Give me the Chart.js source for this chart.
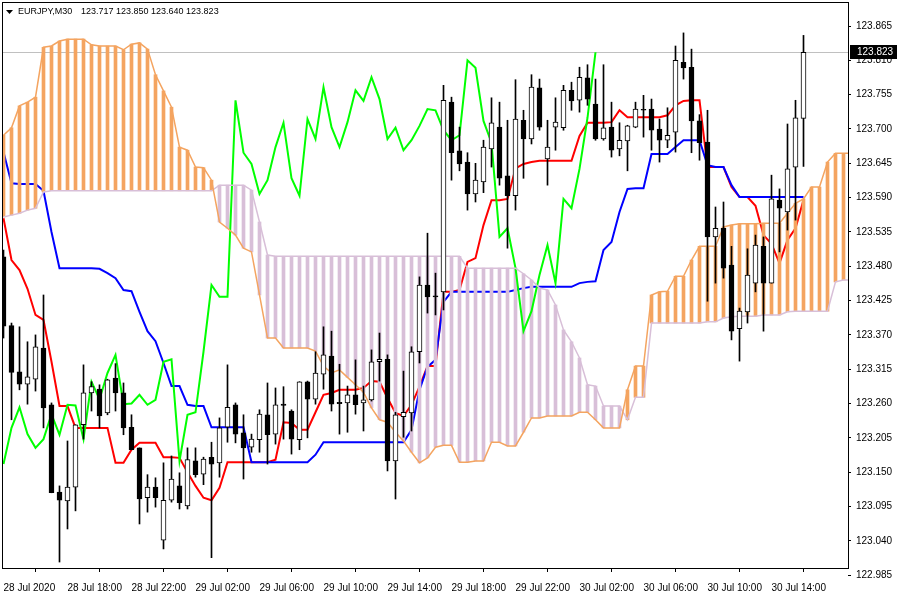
<!DOCTYPE html>
<html><head><meta charset="utf-8">
<script src="https://cdn.jsdelivr.net/npm/chart.js@4.4.1/dist/chart.umd.min.js"></script>
<style>html,body{margin:0;padding:0;background:#fff;}canvas{display:block;}</style>
</head><body>
<canvas id="c" width="900" height="600"></canvas>
<script>
const symbolTitle = 'EURJPY,M30';

const open = [123.495,123.385,123.311,123.291,123.299,123.349,123.258,123.118,123.104,123.126,
 123.226,123.277,123.283,123.245,123.301,123.277,123.222,123.189,123.109,123.126,
 123.041,123.105,123.128,123.096,123.168,123.147,123.174,123.165,123.222,123.258,
 123.213,123.190,123.202,123.242,123.211,123.259,123.248,123.202,123.295,123.267,
 123.307,123.336,123.262,123.261,123.274,123.261,123.266,123.327,123.331,123.168,
 123.239,123.245,123.343,123.450,123.432,123.439,123.743,123.665,123.647,123.596,
 123.615,123.668,123.703,123.625,123.593,123.714,123.684,123.766,123.652,123.703,
 123.702,123.762,123.746,123.782,123.740,123.684,123.703,123.668,123.681,123.703,
 123.731,123.732,123.700,123.682,123.695,123.807,123.799,123.713,123.679,123.527,
 123.541,123.482,123.380,123.407,123.453,123.512,123.453,123.586,123.567,123.639,
 123.717];
const high = [123.506,123.389,123.383,123.359,123.370,123.434,123.261,123.128,123.200,123.226,
 123.322,123.295,123.290,123.299,123.324,123.293,123.242,123.189,123.146,123.141,
 123.165,123.176,123.149,123.189,123.189,123.174,123.198,123.237,123.322,123.261,
 123.242,123.211,123.250,123.293,123.285,123.287,123.250,123.295,123.296,123.343,
 123.383,123.376,123.323,123.288,123.330,123.288,123.346,123.373,123.338,123.246,
 123.312,123.351,123.463,123.533,123.469,123.770,123.751,123.703,123.662,123.645,
 123.682,123.750,123.743,123.714,123.779,123.730,123.787,123.780,123.714,123.750,
 123.770,123.775,123.799,123.803,123.780,123.803,123.743,123.710,123.706,123.743,
 123.754,123.748,123.716,123.734,123.833,123.854,123.828,123.723,123.730,123.575,
 123.583,123.512,123.413,123.508,123.530,123.527,123.626,123.604,123.708,123.746,
 123.850];
const low = [123.365,123.234,123.282,123.259,123.280,123.221,123.117,123.006,123.059,123.088,
 123.203,123.248,123.221,123.242,123.248,123.210,123.186,123.067,123.086,123.094,
 123.027,123.102,123.091,123.091,123.142,123.130,123.013,123.142,123.198,123.197,
 123.139,123.182,123.182,123.163,123.195,123.203,123.179,123.186,123.205,123.259,
 123.283,123.248,123.211,123.214,123.243,123.216,123.264,123.296,123.152,123.107,
 123.206,123.216,123.325,123.405,123.402,123.410,123.618,123.633,123.570,123.583,
 123.598,123.639,123.610,123.509,123.570,123.621,123.676,123.698,123.610,123.666,
 123.698,123.730,123.727,123.738,123.682,123.682,123.655,123.657,123.633,123.702,
 123.687,123.666,123.647,123.670,123.663,123.780,123.662,123.650,123.424,123.453,
 123.461,123.362,123.328,123.389,123.439,123.376,123.453,123.503,123.538,123.554,
 123.640];
const close = [123.384,123.310,123.291,123.303,123.351,123.253,123.117,123.105,123.126,123.226,
 123.277,123.287,123.240,123.298,123.277,123.221,123.186,123.107,123.126,123.109,
 123.105,123.139,123.101,123.170,123.146,123.171,123.163,123.221,123.254,123.211,
 123.189,123.203,123.243,123.210,123.258,123.257,123.203,123.295,123.267,123.309,
 123.338,123.259,123.260,123.274,123.258,123.266,123.327,123.331,123.168,123.242,
 123.246,123.343,123.450,123.431,123.431,123.746,123.662,123.644,123.596,123.618,
 123.671,123.710,123.621,123.593,123.716,123.684,123.767,123.703,123.671,123.711,
 123.762,123.745,123.783,123.748,123.684,123.702,123.666,123.682,123.705,123.732,
 123.730,123.698,123.682,123.690,123.810,123.798,123.713,123.678,123.527,123.541,
 123.477,123.376,123.408,123.466,123.514,123.453,123.588,123.573,123.636,123.718,
 123.823];

const tenkan = [123.557,123.490,123.474,123.444,123.402,123.394,123.327,123.256,123.256,123.221,
 123.221,123.221,123.221,123.221,123.165,123.165,123.186,123.197,123.197,123.197,
 123.174,123.174,123.173,123.150,123.128,123.109,123.105,123.125,123.166,123.166,
 123.166,123.166,123.166,123.166,123.170,123.230,123.229,123.218,123.218,123.246,
 123.274,123.277,123.282,123.282,123.282,123.285,123.296,123.295,123.269,123.245,
 123.240,123.258,123.287,123.320,123.320,123.439,123.439,123.442,123.487,123.493,
 123.546,123.586,123.586,123.588,123.637,123.644,123.647,123.649,123.649,123.649,
 123.649,123.649,123.689,123.710,123.710,123.710,123.711,123.730,123.719,123.719,
 123.719,123.719,123.719,123.722,123.738,123.745,123.746,123.746,123.639,123.639,
 123.639,123.607,123.591,123.591,123.577,123.530,123.516,123.485,123.522,123.541,
 123.586];
const kijun = [123.663,123.613,123.612,123.612,123.612,123.601,123.535,123.477,123.477,123.477,
 123.477,123.477,123.476,123.469,123.461,123.442,123.440,123.407,123.376,123.360,
 123.325,123.288,123.288,123.258,123.256,123.256,123.222,123.222,123.222,123.222,
 123.222,123.166,123.166,123.166,123.166,123.166,123.166,123.166,123.166,123.178,
 123.198,123.198,123.198,123.198,123.198,123.198,123.198,123.198,123.198,123.198,
 123.198,123.218,123.282,123.319,123.330,123.423,123.439,123.439,123.439,123.439,
 123.439,123.439,123.439,123.439,123.442,123.445,123.447,123.447,123.447,123.447,
 123.447,123.447,123.453,123.455,123.456,123.506,123.519,123.567,123.604,123.605,
 123.605,123.660,123.660,123.660,123.671,123.682,123.682,123.682,123.642,123.639,
 123.639,123.610,123.591,123.591,123.591,123.591,123.591,123.591,123.591,123.591,
 123.591];
const chikou = [123.163,123.221,123.254,123.211,123.189,123.203,123.243,123.210,123.258,123.257,
 123.203,123.295,123.267,123.309,123.338,123.259,123.260,123.274,123.258,123.266,
 123.327,123.331,123.168,123.242,123.246,123.343,123.450,123.431,123.431,123.746,
 123.662,123.644,123.596,123.618,123.671,123.710,123.621,123.593,123.716,123.684,
 123.767,123.703,123.671,123.711,123.762,123.745,123.783,123.748,123.684,123.702,
 123.666,123.682,123.705,123.732,123.730,123.698,123.682,123.690,123.810,123.798,
 123.713,123.678,123.527,123.541,123.477,123.376,123.408,123.466,123.514,123.453,
 123.588,123.573,123.636,123.718,123.823];
const senkouA = [123.690,123.702,123.737,123.743,123.751,123.831,123.833,123.841,123.844,123.844,
 123.844,123.835,123.833,123.833,123.833,123.827,123.836,123.838,123.828,123.787,
 123.761,123.735,123.671,123.666,123.639,123.638,123.618,123.551,123.541,123.530,
 123.509,123.503,123.434,123.365,123.365,123.349,123.349,123.349,123.349,123.344,
 123.320,123.309,123.314,123.302,123.290,123.278,123.253,123.234,123.230,123.214,
 123.200,123.182,123.165,123.173,123.190,123.193,123.193,123.166,123.166,123.168,
 123.168,123.198,123.198,123.192,123.192,123.214,123.237,123.237,123.240,123.240,
 123.240,123.240,123.246,123.246,123.234,123.221,123.221,123.221,123.282,123.320,
 123.320,123.434,123.439,123.440,123.464,123.464,123.490,123.512,123.512,123.512,
 123.543,123.546,123.548,123.548,123.548,123.549,123.549,123.549,123.565,123.581,
 123.588,123.607,123.607,123.647,123.661,123.661,123.661];
const senkouB = [123.559,123.562,123.565,123.570,123.573,123.599,123.601,123.601,123.601,123.601,
 123.601,123.601,123.601,123.601,123.601,123.601,123.601,123.601,123.601,123.601,
 123.601,123.601,123.601,123.601,123.601,123.601,123.601,123.610,123.610,123.610,
 123.610,123.602,123.551,123.498,123.496,123.496,123.496,123.496,123.496,123.496,
 123.496,123.496,123.496,123.496,123.496,123.496,123.496,123.496,123.496,123.496,
 123.496,123.496,123.496,123.496,123.496,123.496,123.496,123.496,123.477,123.477,
 123.477,123.477,123.477,123.477,123.477,123.468,123.458,123.445,123.442,123.418,
 123.378,123.359,123.333,123.290,123.288,123.256,123.256,123.256,123.234,123.270,
 123.270,123.389,123.389,123.389,123.389,123.389,123.389,123.389,123.391,123.391,
 123.397,123.399,123.400,123.400,123.400,123.402,123.402,123.402,123.407,123.408,
 123.408,123.408,123.408,123.408,123.455,123.458,123.458];

const timeTickIndex = [0, 8, 16, 24, 32, 40, 48, 56, 64, 72, 80, 88, 96];
const timeTickLabels = ['28 Jul 2020','28 Jul 18:00','28 Jul 22:00','29 Jul 02:00','29 Jul 06:00',
 '29 Jul 10:00','29 Jul 14:00','29 Jul 18:00','29 Jul 22:00','30 Jul 02:00','30 Jul 06:00',
 '30 Jul 10:00','30 Jul 14:00'];
const priceTicks = [122.985,123.040,123.095,123.150,123.205,123.260,123.315,123.370,123.425,
 123.480,123.535,123.590,123.645,123.700,123.755,123.810,123.865];

const FONT = '"Liberation Sans", Arial, sans-serif';
const last = close.length - 1;

const xy = arr => arr.map((v, i) => ({x: i, y: v}));
const bodies = open.map((o, i) => ({x: i, y: [o, close[i]]}));
const wicks = low.map((l, i) => ({x: i, y: [l, high[i]]}));
const bodyFill = open.map((o, i) => close[i] >= o ? '#FFFFFF' : '#000000');
const cloud = senkouA.map((a, i) => ({x: i, y: [a, senkouB[i]]}));
const cloudFill = senkouA.map((a, i) => a >= senkouB[i] ? '#F4A460' : '#D8BFD8');

const mt4 = {
  id: 'mt4',
  beforeDatasetsDraw(chart) {
    const {ctx, chartArea: a, scales: {y}} = chart;
    const py = Math.round(y.getPixelForValue(close[last])) + 0.5;
    ctx.save();
    ctx.strokeStyle = '#C0C0C0'; ctx.lineWidth = 1;
    ctx.beginPath(); ctx.moveTo(a.left, py); ctx.lineTo(a.right, py); ctx.stroke();
    ctx.restore();
  },
  afterDraw(chart) {
    const {ctx, chartArea: a, scales: {y}} = chart;
    ctx.save();
    ctx.strokeStyle = '#000'; ctx.lineWidth = 1;
    ctx.strokeRect(a.left + 0.5, a.top + 0.5, a.right - a.left, a.bottom - a.top);
    const py = Math.round(y.getPixelForValue(close[last]));
    ctx.fillStyle = '#000';
    ctx.fillRect(a.right + 2, py - 7, 47, 14);
    ctx.fillStyle = '#fff';
    ctx.font = '10px ' + FONT; ctx.textBaseline = 'middle'; ctx.textAlign = 'left';
    ctx.fillText(close[last].toFixed(3), a.right + 9, py);
    ctx.fillStyle = '#000';
    ctx.beginPath(); ctx.moveTo(6, 10); ctx.lineTo(13, 10); ctx.lineTo(9.5, 14); ctx.closePath(); ctx.fill();
    ctx.font = '9px ' + FONT;
    ctx.fillText(symbolTitle, 18, 12);
    const values = [open[last], high[last], low[last], close[last]].map(v => v.toFixed(3)).join(' ');
    ctx.fillText(values, 81, 12);
    ctx.restore();
  }
};

new Chart(document.getElementById('c'), {
  data: {
    datasets: [
      {type: 'bar', label: 'body', data: bodies, backgroundColor: bodyFill, borderColor: '#000', borderWidth: 1,
       borderSkipped: false, barThickness: 5, minBarLength: 1, grouped: false, order: 0},
      {type: 'bar', label: 'wick', data: wicks, backgroundColor: '#000', borderWidth: 0,
       barThickness: 1, grouped: false, order: 0},
      {type: 'line', label: 'Senkou A', data: xy(senkouA), borderColor: '#F4A460', borderWidth: 1.5,
       pointRadius: 0, tension: 0, order: 1},
      {type: 'line', label: 'Senkou B', data: xy(senkouB), borderColor: '#D8BFD8', borderWidth: 1.5,
       pointRadius: 0, tension: 0, order: 1},
      {type: 'line', label: 'Chikou', data: xy(chikou), borderColor: '#00FF00', borderWidth: 2,
       pointRadius: 0, tension: 0, order: 2},
      {type: 'bar', label: 'cloud', data: cloud, backgroundColor: cloudFill, borderWidth: 0,
       barThickness: 3, grouped: false, order: 3},
      {type: 'line', label: 'Kijun', data: xy(kijun), borderColor: '#0000FF', borderWidth: 2,
       pointRadius: 0, tension: 0, order: 4},
      {type: 'line', label: 'Tenkan', data: xy(tenkan), borderColor: '#FF0000', borderWidth: 2,
       pointRadius: 0, tension: 0, order: 5}
    ]
  },
  options: {
    responsive: false, animation: false, devicePixelRatio: 1,
    layout: {padding: {left: 2, top: 2, right: 0, bottom: 0}},
    plugins: {legend: {display: false}, tooltip: {enabled: false}, title: {display: false}},
    scales: {
      x: {
        type: 'linear', min: -0.1875, max: 105.5625, offset: false,
        afterBuildTicks: s => { s.ticks = timeTickIndex.map(v => ({value: v})); },
        afterFit: s => { s.height = 32; s.paddingLeft = 0; s.paddingRight = 0; },
        ticks: {autoSkip: false, maxRotation: 0, minRotation: 0, align: 'start', padding: 10, color: '#000',
          font: {family: FONT, size: 10},
          callback: v => { const k = timeTickIndex.indexOf(v); return k >= 0 ? timeTickLabels[k] : ''; }},
        grid: {display: true, drawOnChartArea: false, drawTicks: true, tickLength: 4, color: '#000'},
        border: {display: false}
      },
      y: {
        type: 'linear', position: 'right', min: 122.99644, max: 123.90353,
        afterBuildTicks: s => { s.ticks = priceTicks.map(v => ({value: v})); },
        afterFit: s => { s.width = 52; s.paddingTop = 0; s.paddingBottom = 0; },
        ticks: {autoSkip: false, padding: 5, color: '#000', font: {family: FONT, size: 10},
          callback: v => Number(v).toFixed(3)},
        grid: {display: true, drawOnChartArea: false, drawTicks: true, tickLength: 3, color: '#000'},
        border: {display: false}
      }
    }
  },
  plugins: [mt4]
});
</script>
</body></html>
